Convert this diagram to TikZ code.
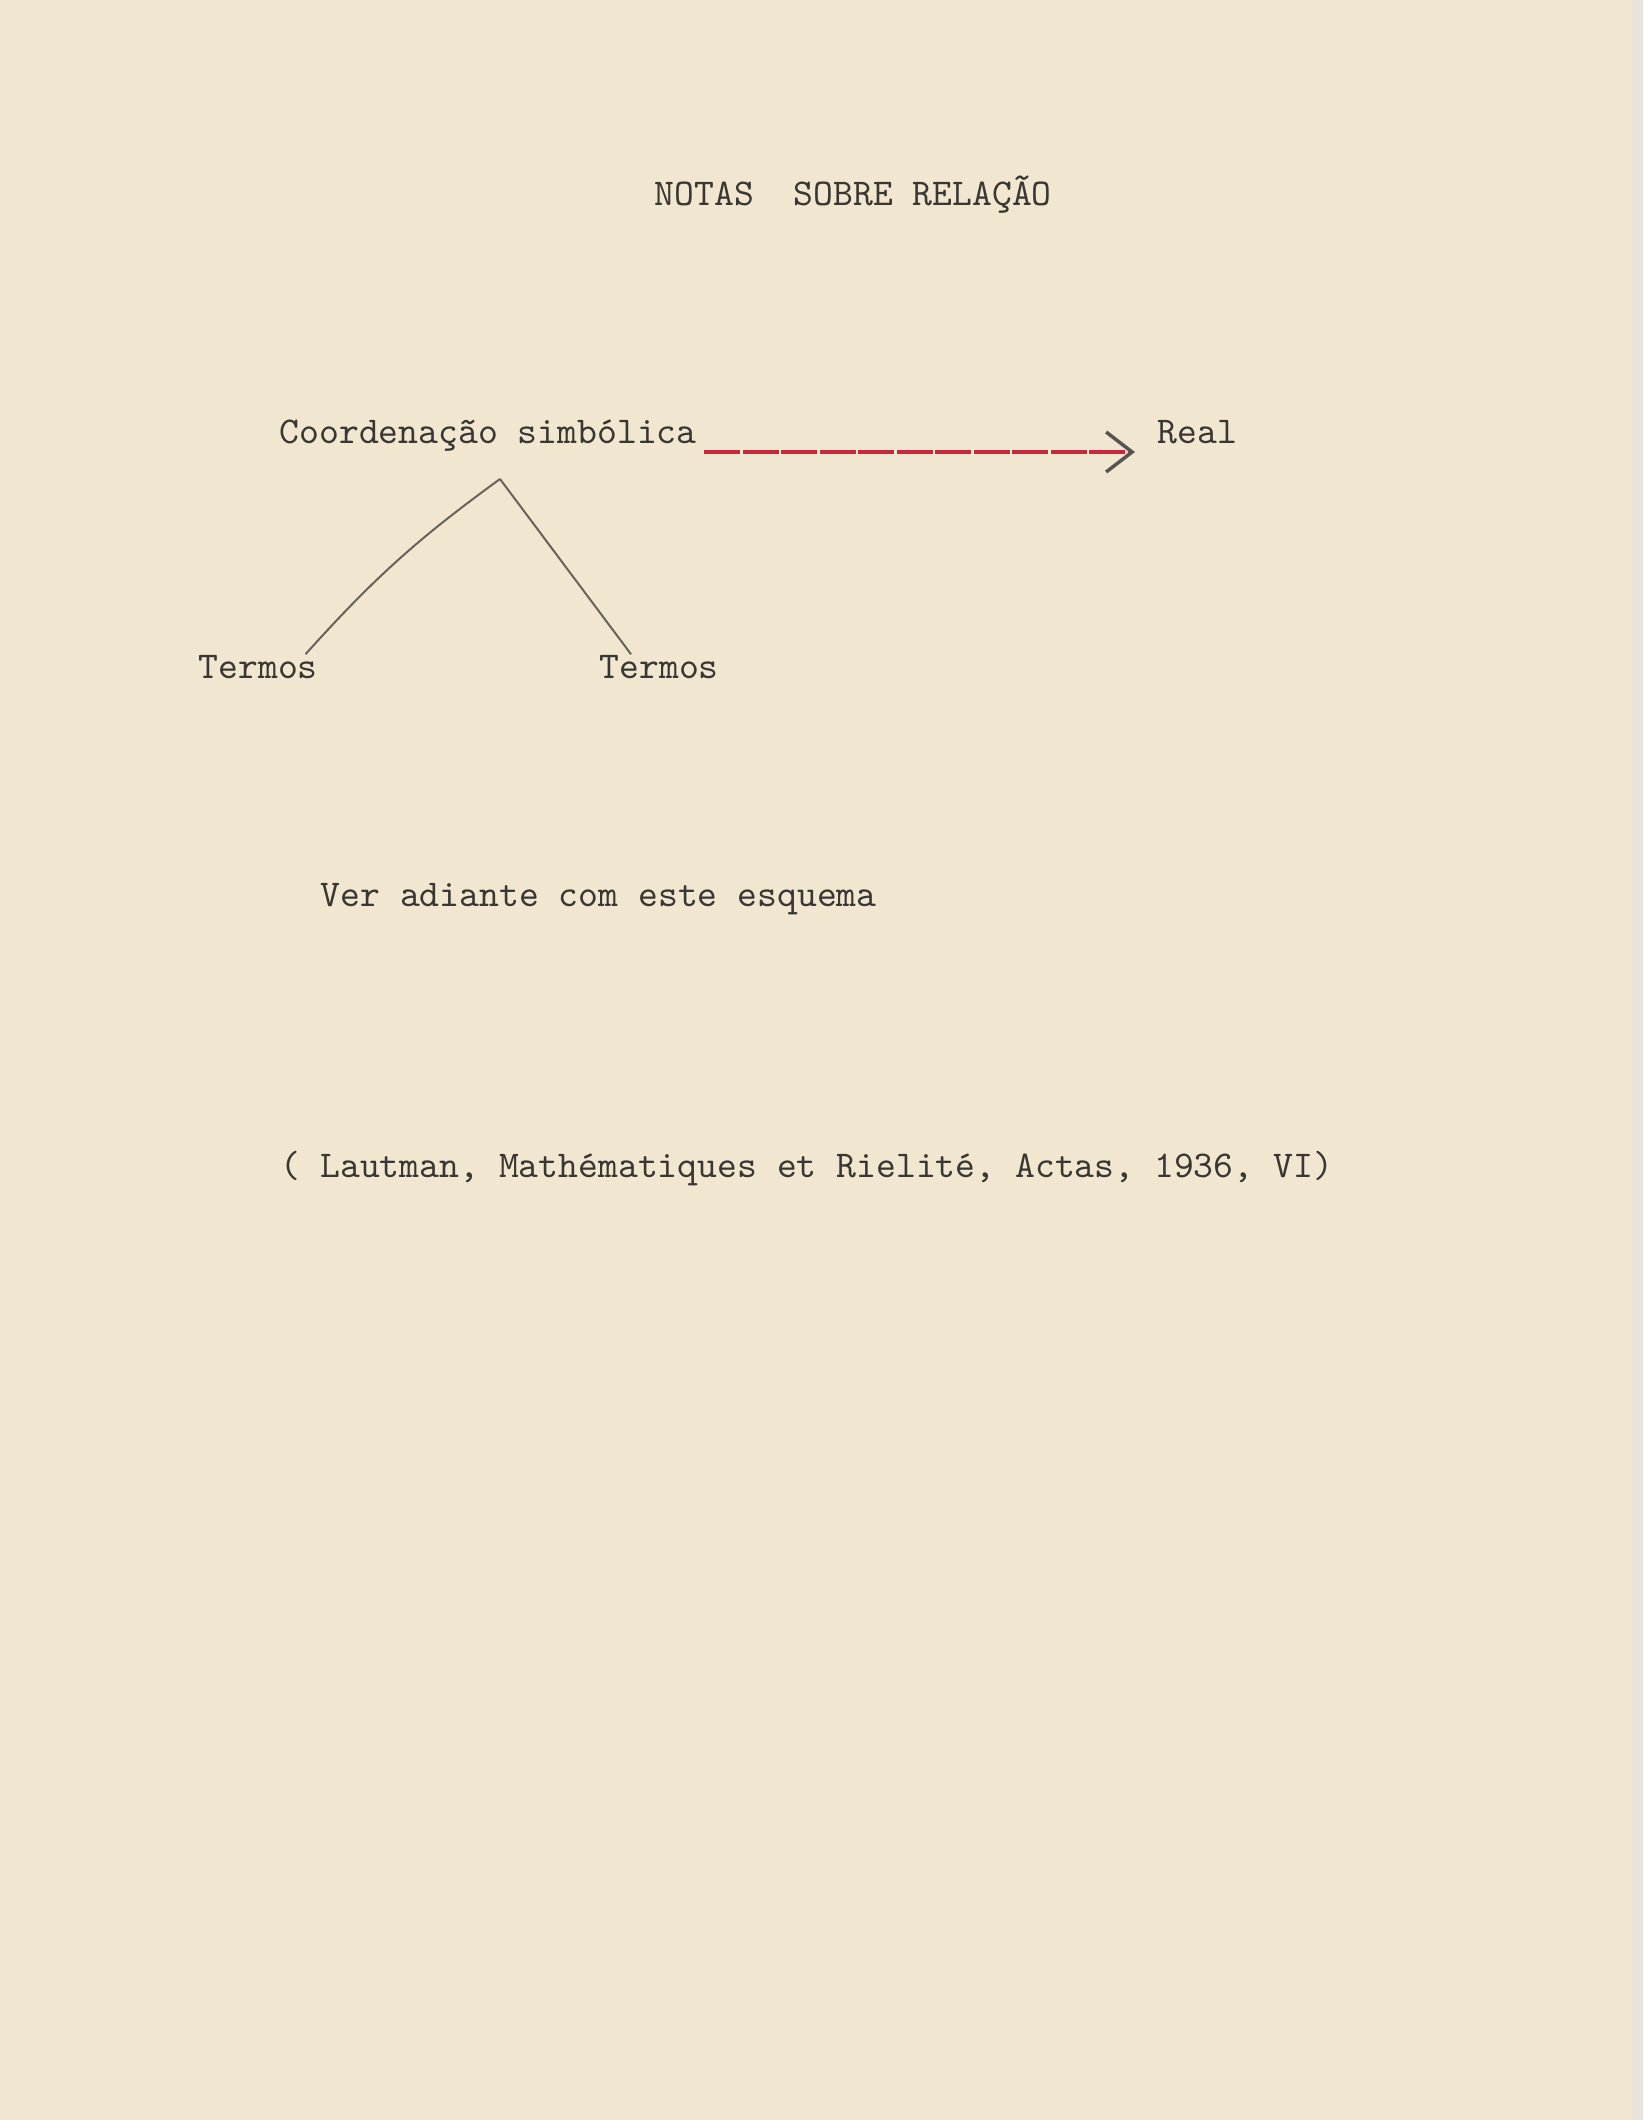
\documentclass[tikz,border=0pt]{standalone}
\usepackage{tikz}
\usetikzlibrary{arrows.meta, calc}

\definecolor{paper}{RGB}{241,231,208}
\definecolor{paperedge}{RGB}{232,227,219}
\definecolor{typeink}{RGB}{58,54,50}
\definecolor{pencil}{RGB}{105,98,90}
\definecolor{ribbonred}{RGB}{200,40,60}

\tikzset{
  typed/.style={anchor=base west, inner sep=0pt, text=typeink,
    font=\ttfamily\fontsize{10.76pt}{13pt}\selectfont},
  pencilline/.style={draw=pencil, line width=0.2mm},
  typedrule/.style={draw=ribbonred, line width=0.38mm,
    dash pattern=on 3.6mm off 0.25mm}
}

\begin{document}
\begin{tikzpicture}[x=0.1mm,y=-0.1mm]

% Sheet
\fill[paper] (0,0) rectangle (1643,2120);
\fill[paperedge] (1632,0) rectangle (1643,2120);

% Title
\node[typed] (title) at (654,205) {NOTAS\ \ SOBRE RELAÇÃO};

% Scheme
\node[typed] (coord) at (279,443) {Coordenação simbólica};

\node[typed] (real) at (1157,443) {Real};

\node[typed] (termosL) at (198,678) {Termos};

\node[typed] (termosR) at (599,678) {Termos};

\coordinate (apex) at (500,479);

% Note and reference
\node[typed] (ver) at (320,906) {Ver adiante com este esquema};

\node[typed] (cite) at (280,1177)
  {( Lautman, Mathématiques et Rielité, Actas, 1936, VI)};

% Arrows
\draw[typedrule, -{Straight Barb[length=2.6mm, width=4mm, line width=0.35mm, color=typeink!85]}]
  ($(coord.base east)+(7,9)$) -- ($(real.base west)+(-22,9)$);
\draw[pencilline] (apex) to[bend right=6] ([xshift=-1.3mm]termosL.north east);
\draw[pencilline] (apex) -- ([xshift=3.2mm]termosR.north west);

\end{tikzpicture}
\end{document}
